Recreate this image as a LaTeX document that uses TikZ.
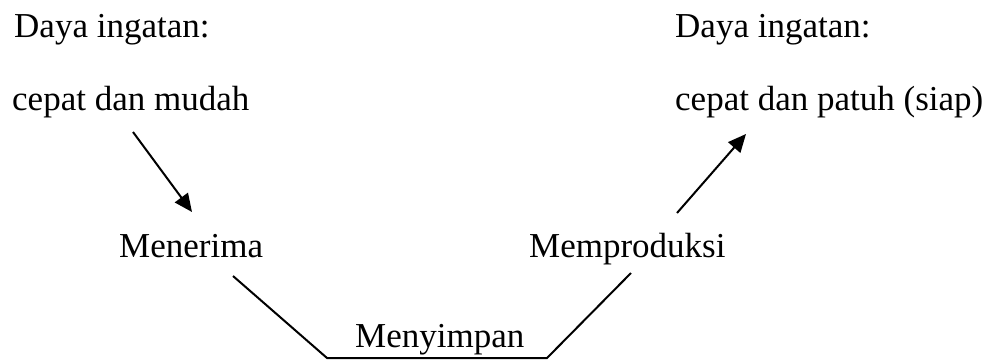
\documentclass[tikz,border=0pt]{standalone}
\usepackage{fontspec}
\setmainfont{Liberation Serif}
\usetikzlibrary{arrows.meta}
\begin{document}
\begin{tikzpicture}[x=1pt,y=-1pt,
  lbl/.style={anchor=base west,inner sep=0pt,font=\fontsize{35}{42}\selectfont},
  conn/.style={line width=2pt,line cap=butt,line join=miter},
  arr/.style={conn,-{Triangle[length=18pt,width=16pt]}}]
\useasboundingbox (0,0) rectangle (985,360);
% texts
\node[lbl] (dl) at (14,37) {Daya ingatan:};
\node[lbl] (cl) at (12,110) {cepat dan mudah};
\node[lbl] (dr) at (675,37) {Daya ingatan:};
\node[lbl] (cr) at (675,110) {cepat dan patuh (siap)};
\node[lbl] (me) at (119,257) {Menerima};
\node[lbl] (mp) at (529,257) {Memproduksi};
\node[lbl] (ms) at (355,347) {Menyimpan};
% connector ends
\coordinate (a1s) at (133,132);
\coordinate (a1e) at (192,212);
\coordinate (a2s) at (677,213);
\coordinate (a2e) at (746,134);
\coordinate (l1) at (233,276);
\coordinate (bl) at (327,358);
\coordinate (br) at (547,358);
\coordinate (r1) at (631,273);
% connectors
\draw[arr] (a1s) -- (a1e);
\draw[arr] (a2s) -- (a2e);
\draw[conn] (l1) -- (bl) -- (br) -- (r1);
\end{tikzpicture}
\end{document}
